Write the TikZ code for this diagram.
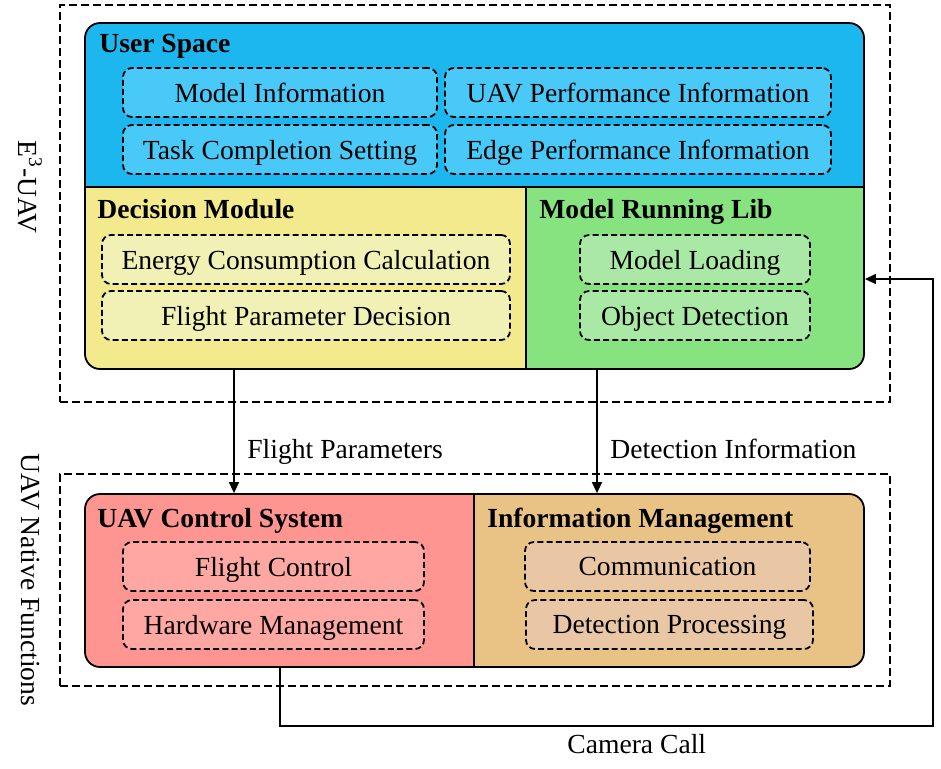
\documentclass[tikz,border=0pt]{standalone}
\usepackage{fontspec}
\setmainfont{Liberation Serif}
\usetikzlibrary{arrows.meta}
\definecolor{usblue}{HTML}{1CB7EE}
\definecolor{usin}{HTML}{49C9F7}
\definecolor{dmyel}{HTML}{F3E98D}
\definecolor{dmin}{HTML}{F1F1B5}
\definecolor{mrgreen}{HTML}{87E37F}
\definecolor{mrin}{HTML}{A9E9A5}
\definecolor{ucred}{HTML}{FF9591}
\definecolor{ucin}{HTML}{FFA7A3}
\definecolor{imtan}{HTML}{E9C285}
\definecolor{imin}{HTML}{E9C7A5}
\tikzset{
  ibox/.style={draw, line width=0.9pt, dash pattern=on 3pt off 1.6pt, rounded corners=4.5pt, inner sep=0pt, minimum height=24.5pt, text depth=0pt},
  outerbox/.style={draw, line width=1.3pt, dash pattern=on 4pt off 2pt},
  panel/.style={draw, line width=0.9pt, rounded corners=7.5pt, inner sep=0pt},
  ttl/.style={font=\fontsize{13.8}{16}\selectfont\bfseries, anchor=base west, inner sep=0pt},
  lbl/.style={anchor=base west, inner sep=0pt},
  arr/.style={line width=0.75pt, -{Triangle[length=5.5pt,width=5pt]}},
}
\begin{document}
\begin{tikzpicture}[x=0.5pt,y=-0.5pt, font=\fontsize{13.8}{16}\selectfont]
\useasboundingbox (0,0) rectangle (941,768);
% outer dashed groups
\node[outerbox, minimum width=830*0.5pt, minimum height=397*0.5pt] (grpE) at (475,203.5) {};
\node[outerbox, minimum width=830*0.5pt, minimum height=212*0.5pt] (grpN) at (475,580) {};
% upper panel fills
\begin{scope}
  \clip[rounded corners=7.5pt] (85,23) rectangle (864,369);
  \fill[usblue] (85,23) rectangle (864,187);
  \fill[dmyel] (85,187) rectangle (526,369);
  \fill[mrgreen] (526,187) rectangle (864,369);
\end{scope}
\node[panel, minimum width=779*0.5pt, minimum height=346*0.5pt] (upper) at (474.5,196) {};
\coordinate (splitA) at (85,187);
\coordinate (splitB) at (526,187);
\draw[line width=0.9pt] (splitA) -- (upper.east |- splitA);
\draw[line width=0.9pt] (splitB) -- (upper.south -| splitB);
% lower panel fills
\begin{scope}
  \clip[rounded corners=7.5pt] (85,494) rectangle (864,667);
  \fill[ucred] (85,494) rectangle (474,667);
  \fill[imtan] (474,494) rectangle (864,667);
\end{scope}
\node[panel, minimum width=779*0.5pt, minimum height=173*0.5pt] (lower) at (474.5,580.5) {};
\coordinate (splitC) at (474,494);
\draw[line width=0.9pt] (splitC) -- (lower.south -| splitC);
% titles
\node[ttl] (tUS) at (99,52) {User Space};
\node[ttl] (tDM) at (97,218) {Decision Module};
\node[ttl] (tMR) at (539,218) {Model Running Lib};
\node[ttl] (tUC) at (97,527) {UAV Control System};
\node[ttl] (tIM) at (487,527) {Information Management};
% user space boxes
\node[ibox, fill=usin, minimum width=314*0.5pt] (mi) at (280,92.5) {Model Information};
\node[ibox, fill=usin, minimum width=314*0.5pt] (tc) at (280,149.5) {Task Completion Setting};
\node[ibox, fill=usin, minimum width=386*0.5pt] (up) at (638,92.5) {UAV Performance Information};
\node[ibox, fill=usin, minimum width=386*0.5pt] (ep) at (638,149.5) {Edge Performance Information};
% decision boxes
\node[ibox, fill=dmin, minimum width=408*0.5pt] (ec) at (306,259.5) {Energy Consumption Calculation};
\node[ibox, fill=dmin, minimum width=408*0.5pt] (fd) at (306,315.5) {Flight Parameter Decision};
% model running boxes
\node[ibox, fill=mrin, minimum width=230*0.5pt] (ml) at (695,259.5) {Model Loading};
\node[ibox, fill=mrin, minimum width=230*0.5pt] (od) at (695,315.5) {Object Detection};
% control boxes
\node[ibox, fill=ucin, minimum width=301*0.5pt] (fc) at (273.5,566.5) {Flight Control};
\node[ibox, fill=ucin, minimum width=301*0.5pt] (hm) at (273.5,624.5) {Hardware Management};
% information management boxes
\node[ibox, fill=imin, minimum width=285*0.5pt] (cm) at (667.5,566.5) {Communication};
\node[ibox, fill=imin, minimum width=287*0.5pt] (dp) at (669.5,624.5) {Detection Processing};
% side labels
\node[rotate=-90] (lE) at (30,187) {E\textsuperscript{3}-UAV};
\node[rotate=-90] (lN) at (30,580) {UAV Native Functions};
% connectors
\coordinate (xFP) at (234,0);
\coordinate (xDI) at (597,0);
\draw[arr] (upper.south -| xFP) -- (lower.north -| xFP);
\draw[arr] (upper.south -| xDI) -- (lower.north -| xDI);
\node[lbl] (lFP) at (247,458) {Flight Parameters};
\node[lbl] (lDI) at (610,458) {Detection Information};
\coordinate (camA) at (280,0);
\coordinate (camB) at (933,726);
\coordinate (camC) at (0,279);
\draw[arr] (lower.south -| camA) |- (camB) |- (upper.east |- camC);
\node[lbl] (lCC) at (567,753) {Camera Call};
\end{tikzpicture}
\end{document}
